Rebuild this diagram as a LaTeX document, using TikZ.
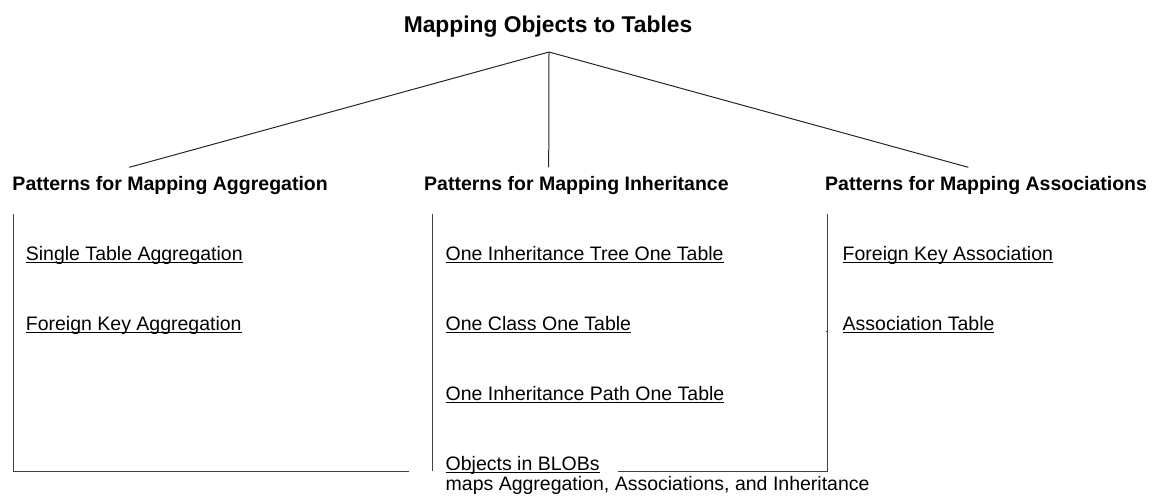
\documentclass[tikz,border=0pt]{standalone}
\usepackage{fontspec}
\setmainfont{Liberation Sans}
% underlined pattern name, rule crossing just below the baseline
\newcommand\patlink[1]{\setbox0\hbox{#1}\rlap{\rule[-3pt]{\wd0}{1.4pt}}\box0}
\begin{document}
\begin{tikzpicture}[x=1pt,y=-1pt,
  every node/.style={inner sep=0pt,anchor=base west},
  titletext/.style={font=\fontsize{22.8}{26}\selectfont\bfseries,anchor=base},
  headtext/.style={font=\fontsize{19.5}{23}\selectfont\bfseries},
  itemtext/.style={font=\fontsize{19.5}{23}\selectfont},
  branch/.style={draw=black!85,line width=1pt},
  frame/.style={draw=black!75,line width=1pt}]
\useasboundingbox (0,0) rectangle (1152,496);

% root
\node[titletext] (root) at (548,32) {Mapping Objects to Tables};
\coordinate (apex) at (549,52);

% pattern groups
\node[headtext] (agg) at (12.3,190.5) {Patterns for Mapping Aggregation};
\node[headtext] (inh) at (424,190.5) {Patterns for Mapping Inheritance};
\node[headtext] (asc) at (825,190.5) {Patterns for Mapping Associations};
\coordinate (aggtop) at (129.3,167.3);
\coordinate (inhtop) at (548.7,167.3);
\coordinate (asctop) at (968.3,167.3);

\draw[branch] (apex) -- (aggtop);
\draw[branch] (apex) -- (inhtop);
\draw[branch] (apex) -- (asctop);

% aggregation patterns
\node[itemtext] (sta) at (25.7,260) {\patlink{Single Table Aggregation}};
\node[itemtext] (fka) at (25.7,330) {\patlink{Foreign Key Aggregation}};

% inheritance patterns
\node[itemtext] (itt) at (445.5,260) {\patlink{One Inheritance Tree One Table}};
\node[itemtext] (oco) at (445.5,330) {\patlink{One Class One Table}};
\node[itemtext] (ipt) at (445.5,400) {\patlink{One Inheritance Path One Table}};
\node[itemtext] (blob) at (445.5,470) {\patlink{Objects in BLOBs}};
\node[itemtext] (blobnote) at (445.5,490) {maps Aggregation, Associations, and Inheritance};

% association patterns
\node[itemtext] (fkas) at (842.5,260) {\patlink{Foreign Key Association}};
\node[itemtext] (atab) at (842.5,330) {\patlink{Association Table}};

% group brackets
\draw[frame] (13.3,214) -- (13.3,471) -- (409,471);
\draw[frame] (432.3,214) -- (432.3,471);
\draw[frame] (827.5,214) -- (827.5,471) -- (618,471);
\draw[frame] (825.5,331) -- (827.5,331);
\end{tikzpicture}
\end{document}
